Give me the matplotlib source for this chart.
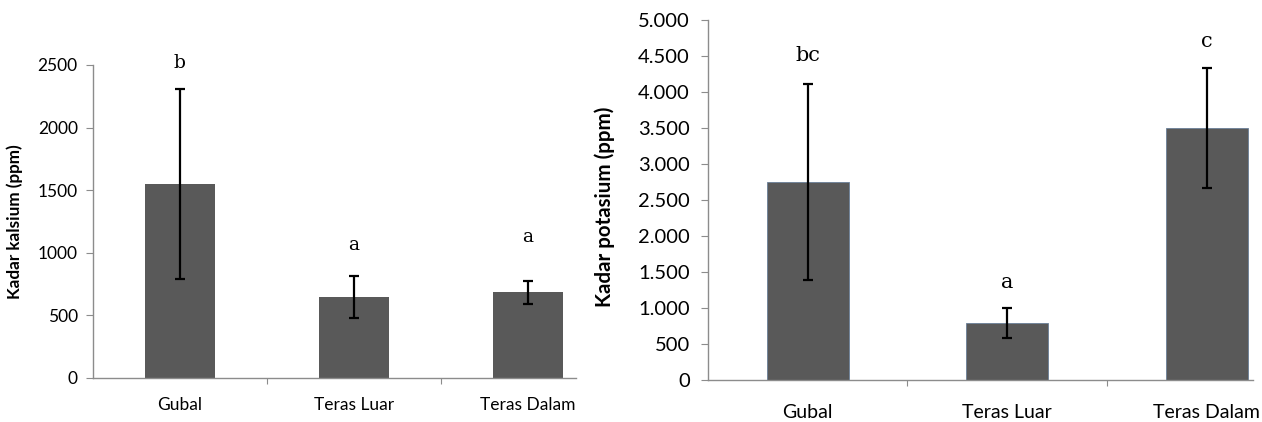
import matplotlib.pyplot as plt
from matplotlib.ticker import FuncFormatter

categories = ["Gubal", "Teras Luar", "Teras Dalam"]

kalsium = [1550, 647, 685]
kalsium_err = [762, 168, 92]
kalsium_letters = ["b", "a", "a"]
kalsium_letter_y = [2516, 1062, 1126]

potasium = [2750, 792, 3500]
potasium_err = [1365, 215, 827]
potasium_letters = ["bc", "a", "c"]
potasium_letter_y = [4514, 1361, 4708]

bar_color = "#595959"
axis_color = "#8c8c8c"
sans = "Lato"
serif = "DejaVu Serif"

fig = plt.figure(figsize=(12.62, 4.22), dpi=100)
ax1 = fig.add_axes([0.0737, 0.1043, 0.3827, 0.7417])
ax2 = fig.add_axes([0.561, 0.0995, 0.4319, 0.853])


def style_axis(ax, ymax, step, fs_tick, fs_x, xpad, ypad, right):
    for s in ["top", "right"]:
        ax.spines[s].set_visible(False)
    for s in ["left", "bottom"]:
        ax.spines[s].set_color(axis_color)
        ax.spines[s].set_linewidth(1.0)
    ax.set_ylim(0, ymax)
    ax.set_xlim(-0.5, right)
    ax.set_yticks(range(0, ymax + 1, step))
    ax.set_xticks([0.5, 1.5])
    ax.set_xticks(range(len(categories)), minor=True)
    ax.set_xticklabels([])
    ax.set_xticklabels(categories, minor=True, fontsize=fs_x, family=sans)
    ax.tick_params(axis="x", which="major", length=4, color=axis_color, direction="out")
    ax.tick_params(axis="x", which="minor", length=0, pad=xpad)
    ax.tick_params(axis="y", length=5, color=axis_color, pad=ypad, labelsize=fs_tick)
    for t in ax.get_yticklabels():
        t.set_family(sans)


# left chart - kalsium
x = range(len(categories))
ax1.bar(x, kalsium, width=0.40, color=bar_color, zorder=2)
ax1.errorbar(x, kalsium, yerr=kalsium_err, fmt="none", ecolor="black",
             elinewidth=1.6, capsize=3.5, capthick=1.6, zorder=3)
for i, (lab, ly) in enumerate(zip(kalsium_letters, kalsium_letter_y)):
    ax1.text(i, ly, lab, ha="center", va="center", fontsize=13.5, family=serif)
style_axis(ax1, 2500, 500, 12.5, 12.5, 14, 6, 2.276)
ax1.set_ylabel("Kadar kalsium (ppm)", fontsize=12.3, fontweight="bold", family=sans)
ax1.yaxis.set_label_coords(-0.145, 0.5)

# right chart - potasium
ax2.bar(x, potasium, width=0.41, color=bar_color, zorder=2,
        edgecolor="#6a7f99", linewidth=0.6)
ax2.errorbar(x, potasium, yerr=potasium_err, fmt="none", ecolor="black",
             elinewidth=1.6, capsize=3.5, capthick=1.6, zorder=3)
for i, (lab, ly) in enumerate(zip(potasium_letters, potasium_letter_y)):
    ax2.text(i, ly, lab, ha="center", va="center", fontsize=15, family=serif)
style_axis(ax2, 5000, 500, 14.5, 14, 17, 8, 2.232)
ax2.yaxis.set_major_formatter(FuncFormatter(lambda v, p: f"{int(v):,}".replace(",", ".")))
for t in ax2.get_yticklabels():
    t.set_family(sans)
ax2.set_ylabel("Kadar potasium (ppm)", fontsize=14.8, fontweight="bold", family=sans)
ax2.yaxis.set_label_coords(-0.17, 0.48)

plt.savefig("out.png", dpi=100)
